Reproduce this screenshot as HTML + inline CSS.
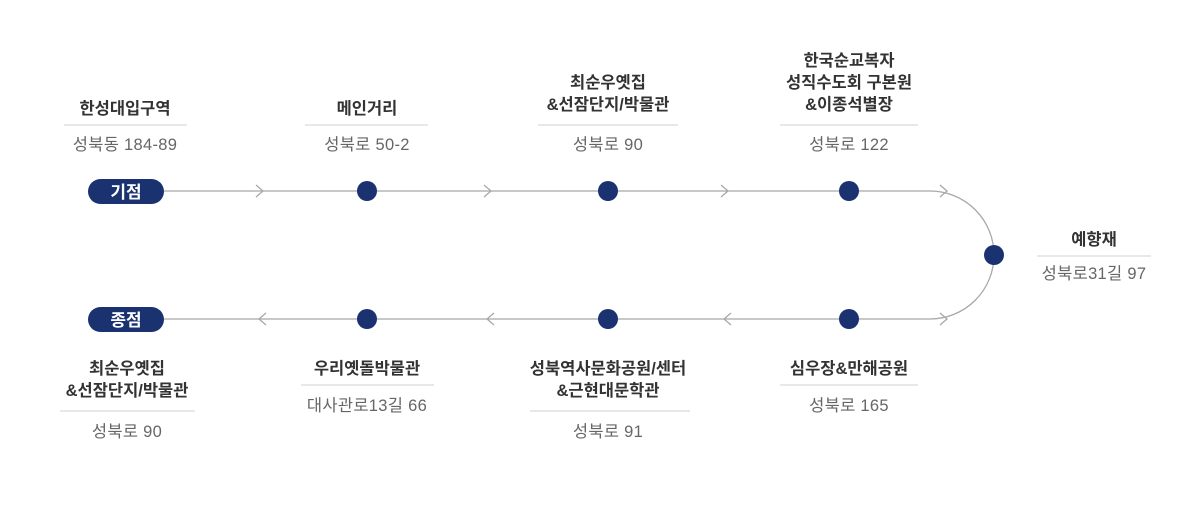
<!DOCTYPE html>
<html><head><meta charset="utf-8"><style>
html,body{margin:0;padding:0;background:#fff;width:1200px;height:523px;overflow:hidden}
svg text{font-family:"Liberation Sans","Noto Sans CJK KR",sans-serif}
.t{font-size:16.5px;font-weight:bold;fill:#333;text-anchor:middle}
.a{font-size:16.5px;fill:#666;text-anchor:middle;letter-spacing:0.3px}
.d{stroke:#d0d0d0;stroke-width:1}
.l{stroke:#a8a8a8;stroke-width:1.3;fill:none}
.c{fill:#1b3270}
</style></head><body>
<svg width="1200" height="523" xmlns="http://www.w3.org/2000/svg">
<path class="l" d="M164 191 H930 A64 64 0 0 1 994 255 A64 64 0 0 1 930 319 H164"/>
<g class="l">
<path d="M256 185 L263 191 L256 197"/>
<path d="M484 185 L491 191 L484 197"/>
<path d="M721 185 L728 191 L721 197"/>
<path d="M940 185 L947 191 L940 197"/>
<path d="M266 313 L259 319 L266 325"/>
<path d="M494 313 L487 319 L494 325"/>
<path d="M731 313 L724 319 L731 325"/>
<path d="M940 313 L947 319 L940 325"/>
</g>
<circle class="c" cx="367" cy="191" r="10"/>
<circle class="c" cx="608" cy="191" r="10"/>
<circle class="c" cx="849" cy="191" r="10"/>
<circle class="c" cx="994" cy="255" r="10"/>
<circle class="c" cx="367" cy="319" r="10"/>
<circle class="c" cx="608" cy="319" r="10"/>
<circle class="c" cx="849" cy="319" r="10"/>
<rect class="c" x="88" y="179" width="76" height="25" rx="12.5"/>
<text x="126" y="198" font-size="17" font-weight="bold" fill="#fff" text-anchor="middle">기점</text>
<rect class="c" x="88" y="307" width="76" height="25" rx="12.5"/>
<text x="126" y="326" font-size="17" font-weight="bold" fill="#fff" text-anchor="middle">종점</text>

<text class="t" x="125" y="114">한성대입구역</text>
<line class="d" x1="64" y1="125" x2="187" y2="125"/>
<text class="a" x="125" y="150">성북동 184-89</text>

<text class="t" x="367" y="114">메인거리</text>
<line class="d" x1="305" y1="125" x2="428" y2="125"/>
<text class="a" x="367" y="150">성북로 50-2</text>

<text class="t" x="608" y="88">최순우옛집</text>
<text class="t" x="608" y="110">&amp;선잠단지/박물관</text>
<line class="d" x1="538" y1="125" x2="678" y2="125"/>
<text class="a" x="608" y="150">성북로 90</text>

<text class="t" x="849" y="66">한국순교복자</text>
<text class="t" x="849" y="88">성직수도회 구본원</text>
<text class="t" x="849" y="110">&amp;이종석별장</text>
<line class="d" x1="780" y1="125" x2="918" y2="125"/>
<text class="a" x="849" y="150">성북로 122</text>

<text class="t" x="1094" y="245">예향재</text>
<line class="d" x1="1037" y1="256" x2="1151" y2="256"/>
<text class="a" x="1094" y="279">성북로31길 97</text>

<text class="t" x="127" y="374">최순우옛집</text>
<text class="t" x="127" y="396">&amp;선잠단지/박물관</text>
<line class="d" x1="60" y1="411" x2="195" y2="411"/>
<text class="a" x="127" y="437">성북로 90</text>

<text class="t" x="367" y="374">우리옛돌박물관</text>
<line class="d" x1="301" y1="385" x2="434" y2="385"/>
<text class="a" x="367" y="411">대사관로13길 66</text>

<text class="t" x="608" y="374">성북역사문화공원/센터</text>
<text class="t" x="608" y="396">&amp;근현대문학관</text>
<line class="d" x1="530" y1="411" x2="690" y2="411"/>
<text class="a" x="608" y="437">성북로 91</text>

<text class="t" x="849" y="374">심우장&amp;만해공원</text>
<line class="d" x1="780" y1="385" x2="918" y2="385"/>
<text class="a" x="849" y="411">성북로 165</text>
</svg>
</body></html>
